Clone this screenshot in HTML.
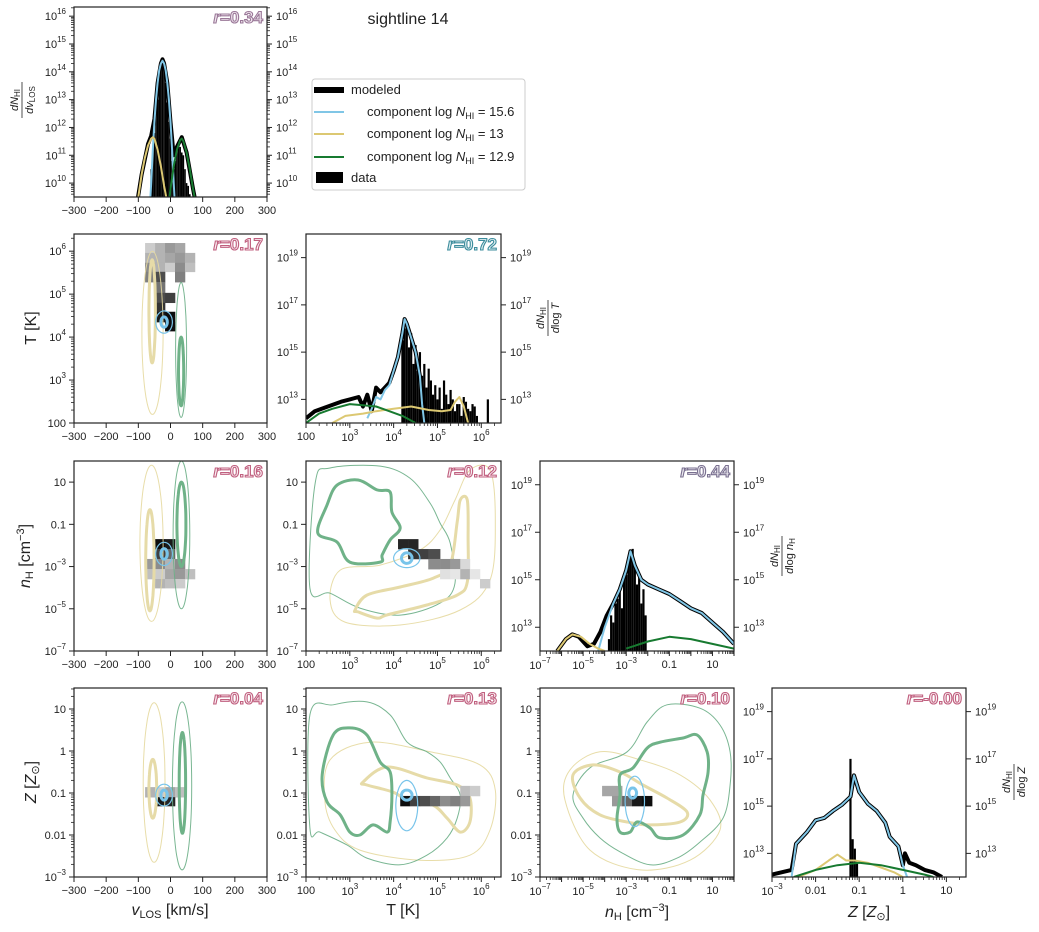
<!DOCTYPE html>
<html><head><meta charset="utf-8"><style>
html,body{margin:0;padding:0;background:#fff;}
svg{display:block;font-family:"Liberation Sans",sans-serif;}
</style></head><body>
<svg id="chart" width="1039" height="932" viewBox="0 0 1039 932"></svg>
<script>
// ---------- DATA ----------
const vBins=[-60,-55,-50,-45,-40,-35,-30,-25,-20,-15,-10,-5,0,5,10,15,20,25,30,35,40,45,50,55,60,65,70];
const vData=[10.5,11.2,11.8,12.5,13.0,13.8,14.1,14.3,14.3,13.6,12.9,12.2,11.6,10.8,10.5,10.8,11.2,11.4,11.3,11.1,11.0,10.5,10.0,9.9,9.6,9.5,9.4];
const vModX=[-105,-90,-70,-60,-50,-40,-30,-25,-20,-10,0,10,20,35,50,70,80];
const vModY=[9.2,10.3,11.4,11.7,12.3,13.6,14.3,14.45,14.3,13.6,12.2,11.0,11.3,11.65,11.1,9.8,9.2];
const vBlueX=[-65,-60,-55,-50,-45,-40,-35,-30,-25,-20,-15,-10,-5,0,5,10,15];
const vBlueY=[9.0,10.0,11.2,12.2,13.0,13.6,14.05,14.3,14.4,14.3,14.05,13.6,13.0,12.2,11.2,10.0,9.0];
const vYelX=[-105,-100,-90,-80,-70,-60,-55,-50,-40,-30,-20,-10];
const vYelY=[9.2,9.5,10.3,10.9,11.35,11.6,11.65,11.6,11.2,10.6,9.9,9.3];
const vGrnX=[-5,0,10,20,30,35,40,50,60,70,80];
const vGrnY=[9.3,9.8,10.6,11.2,11.55,11.6,11.5,11.1,10.5,9.8,9.2];
const tBins=[4.2,4.25,4.3,4.35,4.4,4.45,4.5,4.55,4.6,4.65,4.7,4.75,4.8,4.85,4.9,4.95,5.0,5.05,5.1,5.15,5.2,5.25,5.3,5.35,5.4,5.45,5.5,5.55,5.6,5.65,5.7,5.75,5.8,5.85,5.9,6.15];
const tData=[15.5,16.0,16.3,15.2,15.8,14.5,15.3,14.2,15.0,14.0,14.5,13.5,14.3,13.8,13.2,13.6,13.0,13.5,12.6,13.8,13.2,12.8,13.4,13.0,12.5,12.8,12.8,12.3,13.1,12.9,12.6,12.5,12.8,12.7,12.3,13.0];
const tModX=[2.0,2.2,2.5,2.8,3.0,3.2,3.3,3.4,3.5,3.6,3.7,3.8,3.9,4.0,4.1,4.2,4.25,4.3,4.4,4.5,4.6,4.7,4.75];
const tModY=[12.2,12.5,12.7,12.9,13.0,13.1,12.7,13.2,12.5,13.5,13.3,13.5,13.7,14.2,14.8,15.8,16.4,16.2,15.6,15.0,14.0,12.6,12.0];
const tBlueX=[3.4,3.5,3.6,3.7,3.8,3.9,4.0,4.1,4.2,4.25,4.3,4.4,4.5,4.6,4.65,4.7];
const tBlueY=[12.2,12.6,13.1,13.0,13.4,13.6,14.2,14.8,15.8,16.4,16.2,15.6,15.0,14.0,12.8,12.0];
const tYelX=[2.6,2.9,3.3,3.6,4.0,4.4,4.8,5.1,5.3,5.4,5.5,5.6,5.7];
const tYelY=[12.0,12.3,12.4,12.5,12.6,12.7,12.55,12.5,12.55,12.9,13.1,12.7,12.0];
const tGrnX=[2.0,2.3,2.6,3.0,3.3,3.6,3.9,4.2,4.5];
const tGrnY=[12.0,12.4,12.6,12.8,12.75,12.7,12.5,12.3,12.0];
const nBins=[-3.8,-3.7,-3.6,-3.5,-3.4,-3.3,-3.2,-3.1,-3.0,-2.9,-2.8,-2.7,-2.6,-2.5,-2.4,-2.3,-2.2,-2.1];
const nData=[12.5,13.5,13.2,14.0,14.2,14.5,13.8,15.0,15.2,15.8,16.0,16.3,15.5,14.8,15.2,14.0,14.6,13.5];
const nModX=[-6.2,-5.8,-5.5,-5.2,-4.8,-4.5,-4.2,-3.9,-3.6,-3.3,-3.0,-2.8,-2.6,-2.3,-2.0,-1.5,-1.0,-0.5,0.0,0.5,1.0,1.5,2.0];
const nModY=[12.0,12.5,12.7,12.6,12.2,12.3,12.8,13.5,14.0,14.6,15.4,16.2,15.6,15.0,14.8,14.6,14.4,14.1,13.8,13.6,13.2,12.8,12.3];
const nBlueX=[-4.3,-4.0,-3.6,-3.3,-3.0,-2.8,-2.6,-2.3,-2.0,-1.5,-1.0,-0.5,0.0,0.5,1.0,1.5,2.0];
const nBlueY=[12.0,13.0,14.0,14.6,15.4,16.2,15.6,15.0,14.8,14.6,14.4,14.1,13.8,13.6,13.2,12.8,12.3];
const nYelX=[-6.2,-5.8,-5.5,-5.1,-4.7,-4.3,-4.0];
const nYelY=[12.0,12.5,12.7,12.6,12.3,12.1,12.0];
const nGrnX=[-3.0,-2.0,-1.0,0.0,1.0,2.0];
const nGrnY=[12.1,12.4,12.6,12.5,12.3,12.1];
const zBins=[-1.2,-1.15,-1.1,-1.05];
const zData=[17.0,13.6,13.2,12.7];
const zModX=[-3.0,-2.55,-2.45,-2.2,-2.0,-1.8,-1.6,-1.4,-1.2,-1.12,-1.0,-0.8,-0.6,-0.4,-0.3,-0.1,0.0,0.05,0.15,0.3,0.5,0.7,0.9];
const zModY=[12.1,12.3,13.4,13.9,14.4,14.5,14.8,15.05,15.4,16.3,15.6,15.1,14.8,14.3,13.7,13.3,12.5,13.0,12.6,12.5,12.3,12.2,12.0];
const zBlueX=[-2.55,-2.45,-2.2,-2.0,-1.8,-1.6,-1.4,-1.2,-1.12,-1.0,-0.8,-0.6,-0.4,-0.3,-0.1,0.0,0.1];
const zBlueY=[12.0,13.4,13.9,14.4,14.5,14.8,15.05,15.4,16.3,15.6,15.1,14.8,14.3,13.7,13.3,12.5,12.0];
const zYelX=[-2.4,-2.0,-1.7,-1.5,-1.3,-1.1,-0.8,-0.5,-0.2,0.0];
const zYelY=[12.0,12.3,12.7,12.95,12.7,12.7,12.6,12.4,12.2,12.0];
const zGrnX=[-2.5,-2.0,-1.5,-1.0,-0.5,0.0,0.5,0.7];
const zGrnY=[12.0,12.3,12.5,12.6,12.5,12.3,12.1,12.0];
const vEdges=[-79,-48,-17,14,45,76];
const tEdgesVT=[6.19,5.96,5.73,5.52,5.28,5.03,4.8,4.59,4.35,4.14];
const cellsVT=[[0,0,0.2],[1,0,0.3],[2,0,0.4],[3,0,0.35],[0,1,0.3],[1,1,0.3],[2,1,0.35],[3,1,0.4],[4,1,0.3],[0,2,0.45],[1,2,0.3],[2,2,0.2],[3,2,0.45],[4,2,0.25],[0,3,0.5],[1,3,0.7],[3,3,0.5],[1,4,0.55],[1,5,0.7],[2,5,0.75],[1,6,0.8],[1,7,0.9],[2,7,0.95],[2,8,0.95]];
const nEdgesVN=[-1.7,-2.17,-2.64,-3.12,-3.59,-4.02];
const cellsVN=[[1,0,0.95],[2,0,0.9],[1,1,0.75],[2,1,0.6],[0,2,0.4],[1,2,0.45],[2,2,0.3],[3,2,0.45],[0,3,0.25],[1,3,0.2],[2,3,0.35],[3,3,0.4],[4,3,0.25],[1,4,0.3],[2,4,0.25],[3,4,0.2]];
const zEdgesVZ=[-0.86,-1.1,-1.31];
const cellsVZ=[[0,0,0.3],[1,0,0.2],[2,0,0.35],[3,0,0.25],[1,1,0.9],[2,1,0.85]];
const tEdgesTN=[4.10,4.33,4.56,4.79,5.06,5.29,5.52,5.74,5.97,6.2];
const nEdgesTN=[-1.70,-2.17,-2.64,-3.12,-3.59,-4.02];
const cellsTN=[[0,0,0.85],[1,0,0.85],[1,1,0.8],[2,1,0.75],[3,1,0.7],[3,2,0.45],[4,2,0.45],[5,2,0.4],[6,2,0.15],[4,3,0.12],[5,3,0.1],[6,3,0.3],[7,3,0.1],[8,4,0.2]];
const tEdgesTZ=[4.15,4.37,4.6,4.83,5.06,5.29,5.52,5.74,5.97];
const zEdgesTZ=[-0.83,-1.07,-1.31];
const cellsTZ=[[6,0,0.25],[7,0,0.2],[8,0,0.25],[0,1,0.95],[1,1,0.75],[2,1,0.7],[3,1,0.6],[4,1,0.45],[5,1,0.5],[6,1,0.4]];
const nEdgesNZ=[-4.12,-3.66,-3.19,-2.73,-2.27,-1.8];
const zEdgesNZ=[-0.83,-1.07,-1.31];
const cellsNZ=[[0,0,0.35],[1,0,0.35],[1,1,0.4],[2,1,0.6],[3,1,0.9],[4,1,0.95]];
const cTNgreenThick=[[2.27,-1.41],[2.48,-0.09],[2.71,0.86],[3.19,1.10],[3.62,0.63],[3.92,0.53],[3.96,-0.42],[4.15,-1.18],[3.92,-1.74],[3.74,-2.45],[3.69,-2.79],[3.00,-2.79],[2.71,-1.84]];
const cTNyelThick=[[3.12,-5.06],[3.39,-4.35],[4.15,-3.97],[4.90,-3.55],[5.29,-2.93],[5.45,-0.89],[5.52,0.15],[5.68,0.15],[5.70,-1.65],[5.68,-3.73],[5.45,-4.35],[4.76,-4.82],[3.85,-5.29],[3.62,-5.44],[3.19,-5.15]];
const cTNgreenThin=[[2.21,0.96],[2.55,1.67],[3.69,1.76],[4.37,1.19],[4.83,0.01],[5.06,-0.94],[5.29,-1.89],[5.40,-3.79],[5.06,-4.73],[4.15,-5.30],[3.23,-4.97],[2.55,-4.26],[2.09,-4.02]];
const cTNyelThin=[[2.78,-3.17],[2.55,-4.59],[2.89,-5.63],[4.15,-5.77],[5.52,-5.06],[6.20,-3.64],[6.32,-0.80],[6.20,1.57],[5.74,1.57],[5.40,0.15],[5.06,-1.27],[4.60,-2.22],[3.69,-2.93]];
const cTZgreenThick=[[2.37,-0.57],[2.62,0.38],[3.00,0.55],[3.39,0.38],[3.69,-0.26],[3.92,-0.50],[3.96,-1.05],[3.92,-1.69],[3.85,-1.93],[3.53,-1.76],[3.23,-2.0],[3.00,-1.93],[2.78,-1.52],[2.48,-1.21]];
const cTZyelThick=[[3.30,-0.74],[3.85,-0.38],[4.76,-0.64],[5.45,-0.81],[5.74,-1.12],[5.74,-1.69],[5.52,-1.93],[5.22,-1.60],[4.90,-1.29],[4.37,-1.21],[3.99,-0.98],[3.39,-0.81]];
const cTZgreenThin=[[2.09,0.86],[2.62,1.10],[3.39,1.17],[3.92,0.86],[4.31,0.21],[4.76,-0.02],[5.06,-0.26],[5.29,-0.64],[5.52,-1.05],[5.45,-1.60],[5.22,-2.07],[4.76,-2.48],[4.15,-2.71],[3.39,-2.55],[2.94,-2.24],[2.32,-1.93],[2.09,-1.83]];
const cTZyelThin=[[2.55,-0.21],[3.46,0.21],[4.83,-0.02],[5.97,-0.33],[6.32,-0.93],[6.20,-1.88],[5.74,-2.48],[4.60,-2.60],[3.23,-2.36],[2.66,-1.88],[2.43,-1.17]];
const cNZgreenThick=[[-3.29,-0.57],[-2.68,-0.40],[-2.03,0.07],[-1.43,0.21],[-0.36,0.31],[0.29,0.38],[0.75,-0.02],[0.80,-0.50],[0.56,-1.05],[0.42,-1.52],[-0.36,-2.0],[-1.43,-2.07],[-1.90,-1.83],[-2.50,-1.69],[-2.82,-1.93],[-3.29,-1.93],[-3.43,-1.60],[-3.29,-1.05]];
const cNZyelThick=[[-5.47,-0.57],[-4.54,-0.33],[-3.29,-0.50],[-2.22,-0.81],[-1.11,-1.12],[-0.18,-1.45],[-0.50,-1.69],[-1.90,-1.76],[-2.96,-1.69],[-4.22,-1.52],[-5.14,-1.12]];
const cNZgreenThin=[[-5.47,-1.05],[-4.68,-0.40],[-2.96,-0.02],[-2.03,0.69],[-1.11,1.10],[0.42,1.02],[1.35,0.62],[1.82,-0.02],[1.82,-0.81],[1.49,-1.60],[0.42,-2.17],[-0.64,-2.55],[-1.90,-2.71],[-3.29,-2.40],[-4.22,-2.07],[-5.0,-1.60]];
const cNZyelThin=[[-5.84,-1.17],[-5.61,-0.45],[-4.22,-0.02],[-2.36,-0.21],[-0.50,-0.57],[0.89,-1.17],[1.35,-1.88],[-0.04,-2.60],[-2.36,-2.83],[-4.68,-2.36]];
const eVT=[[-56,4.1,33,1.9,'yt'],[-57,4.6,10,1.2,'yk'],[33,3.7,17,1.57,'gt'],[33,3.2,8,0.8,'gk'],[-20,4.35,10,0.12,'bk'],[-20,4.35,26,0.26,'bt']];
const eVN=[[-59,-1.9,36,3.7,'yt'],[-64,-2.7,13,2.4,'yk'],[34,-1.5,26,3.5,'gt'],[34,-1.0,14,2.0,'gk'],[-20,-2.4,10,0.25,'bk'],[-20,-2.4,26,0.55,'bt']];
const eVZ=[[-51,-0.75,34,1.9,'yt'],[-55,-0.9,12,0.7,'yk'],[36,-0.83,30,2.0,'gt'],[37,-0.76,10,1.2,'gk'],[-20,-1.05,10,0.12,'bk'],[-20,-1.05,26,0.26,'bt']];
const eTN=[[4.3,-2.6,0.12,0.25,'bk'],[4.3,-2.6,0.3,0.45,'bt']];
const eTZ=[[4.3,-1.05,0.12,0.12,'bk'],[4.3,-1.3,0.25,0.6,'bt']];
const eNZ=[[-2.7,-1.0,0.18,0.12,'bk'],[-2.6,-1.2,0.45,0.6,'bt']];
const vTicks=[-300,-200,-100,0,100,200,300];
const vTickLabels=['\u2212300','\u2212200','\u2212100','0','100','200','300'];
const tTicks=[2,3,4,5,6];
const nTicks=[-7,-5,-3,-1,1];
const zTicks=[-3,-2,-1,0,1];
const histTicksV=[10,11,12,13,14,15,16];
const histTicksO=[13,15,17,19];
const rValues=['0.34','0.17','0.72','0.16','0.12','0.44','0.04','0.13','0.10','-0.00'];

// ---------- RENDER ----------
const NS='http://www.w3.org/2000/svg';
const svg=document.getElementById('chart');
function el(tag,attrs,parent){const e=document.createElementNS(NS,tag);for(const k in attrs)e.setAttribute(k,attrs[k]);(parent||svg).appendChild(e);return e;}
let clipN=0;
function mk(x0,y0,x1,y1,xmin,xmax,ymin,ymax,name){
  const p={x0,y0,x1,y1,sx:v=>x0+(v-xmin)/(xmax-xmin)*(x1-x0),sy:v=>y1-(v-ymin)/(ymax-ymin)*(y1-y0),xmin,xmax,ymin,ymax};
  const id='c'+(clipN++);
  const cp=el('clipPath',{id});el('rect',{x:x0,y:y0,width:x1-x0,height:y1-y0},cp);
  p.g=el('g',{'clip-path':'url(#'+id+')'});
  
  
  p.name=name;
  return p;
}
function frame(p){
  const r=el('rect',{x:p.x0,y:p.y0,width:p.x1-p.x0,height:p.y1-p.y0,fill:'none',stroke:'#222','stroke-width':1.2});
  
  
}
function txt(x,y,s,size,anchor,parent){const t=el('text',{x,y,'font-size':size,'text-anchor':anchor||'middle',fill:'#222'},parent);t.textContent=s;return t;}
function powLabel(x,y,exp,anchor,name){
  const t=el('text',{x,y,'font-size':11,'text-anchor':anchor,fill:'#222'});
  
  
  const a=el('tspan',{},t);a.textContent='10';
  const b=el('tspan',{dy:-6,'font-size':8},t);b.textContent=String(exp).replace('-','\u2212');
  return t;
}
function logLabel(e){
  if(e===-1)return '0.1'; if(e===0)return '1'; if(e===1)return '10'; if(e===-2)return '0.01'; if(e===2)return '100'; return null;
}
function xAxisLog(p,ticks,style,minor){
  ticks.forEach(e=>{const x=p.sx(e);el('line',{x1:x,y1:p.y1,x2:x,y2:p.y1+5,stroke:'#222'});
    const lab=style==='T'?(e===2?'100':null):logLabel(e);
    if(lab){const t=txt(x,p.y1+17,lab,11);}
    else powLabel(x,p.y1+18,e,'middle','x-tick-label');});
  if(minor){for(let d=Math.floor(p.xmin);d<p.xmax;d++)for(let k=2;k<10;k++){const v=d+Math.log10(k);if(v>p.xmin&&v<p.xmax){const x=p.sx(v);el('line',{x1:x,y1:p.y1,x2:x,y2:p.y1+3,stroke:'#222','stroke-width':0.8});}}
    for(let d=Math.ceil(p.xmin);d<=p.xmax;d++){if(ticks.indexOf(d)<0){const x=p.sx(d);el('line',{x1:x,y1:p.y1,x2:x,y2:p.y1+5,stroke:'#222'});}}}
}
function yAxisLog(p,ticks,style,minor,side){
  const X=side==='r'?p.x1:p.x0, dir=side==='r'?1:-1;
  ticks.forEach(e=>{const y=p.sy(e);el('line',{x1:X,y1:y,x2:X+dir*5,y2:y,stroke:'#222'});
    const lab=style==='T'?(e===2?'100':null):(style==='H'?null:logLabel(e));
    if(lab){const t=txt(X+dir*8,y+4,lab,11,side==='r'?'start':'end');}
    else powLabel(X+dir*(side==='r'?9:8),y+4,e,side==='r'?'start':'end','y-tick-label');});
  if(minor){for(let d=Math.floor(p.ymin);d<p.ymax;d++)for(let k=2;k<10;k++){const v=d+Math.log10(k);if(v>p.ymin&&v<p.ymax){const y=p.sy(v);el('line',{x1:X,y1:y,x2:X+dir*3,y2:y,stroke:'#222','stroke-width':0.8});}}
    for(let d=Math.ceil(p.ymin);d<=p.ymax;d++){if(ticks.indexOf(d)<0){const y=p.sy(d);el('line',{x1:X,y1:y,x2:X+dir*5,y2:y,stroke:'#222'});}}}
}
function xAxisV(p){vTicks.forEach((v,i)=>{const x=p.sx(v);el('line',{x1:x,y1:p.y1,x2:x,y2:p.y1+5,stroke:'#222'});const t=txt(x,p.y1+17,vTickLabels[i],11);});}
function line(p,xs,ys,color,w,name){
  const d=xs.map((x,i)=>(i?'L':'M')+p.sx(x).toFixed(1)+','+p.sy(ys[i]).toFixed(1)).join('');
  const e=el('path',{d,fill:'none',stroke:color,'stroke-width':w,'stroke-linejoin':'round'},p.g);
  
  
}
function bars(p,bins,vals,w){
  bins.forEach((b,i)=>{const x0=p.sx(b-w/2),x1=p.sx(b+w/2),y=p.sy(vals[i]);
    const r=el('rect',{x:x0,y,width:Math.max(x1-x0,1.2),height:p.y1-y,fill:'#000'},p.g);
    
    });
}
function hist(p,bins,vals,w,m,b,yl,g){
  bars(p,bins,vals,w);
  line(p,m[0],m[1],'#000',4,'modeled-line');
  line(p,b[0],b[1],'#80c6e6',2,'component-1-line');
  line(p,yl[0],yl[1],'#dcc872',2,'component-2-line');
  line(p,g[0],g[1],'#177a30',2,'component-3-line');
}
function heat(p,xe,ye,cells){
  cells.forEach(c=>{const xa=p.sx(xe[c[0]]),xb=p.sx(xe[c[0]+1]),ya=p.sy(ye[c[1]]),yb=p.sy(ye[c[1]+1]);
    const g=Math.round(255*(1-c[2]));
    const r=el('rect',{x:Math.min(xa,xb),y:Math.min(ya,yb),width:Math.abs(xb-xa)+0.3,height:Math.abs(yb-ya)+0.3,fill:'rgb('+g+','+g+','+g+')'},p.g);
    
    });
}
const cStyle={yt:['#e6d9a0',1,0.9],yk:['#e6dba8',3,1],gt:['#6aae86',1,0.9],gk:['#6fb288',3,1],bk:['#78c4ea',3,1],bt:['#78c4ea',1.2,1]};
function smooth(pts){
  const n=pts.length;let d='M'+pts[0][0].toFixed(1)+','+pts[0][1].toFixed(1);
  for(let i=0;i<n;i++){const p0=pts[(i-1+n)%n],p1=pts[i],p2=pts[(i+1)%n],p3=pts[(i+2)%n];
    d+='C'+(p1[0]+(p2[0]-p0[0])/6).toFixed(1)+','+(p1[1]+(p2[1]-p0[1])/6).toFixed(1)+' '+(p2[0]-(p3[0]-p1[0])/6).toFixed(1)+','+(p2[1]-(p3[1]-p1[1])/6).toFixed(1)+' '+p2[0].toFixed(1)+','+p2[1].toFixed(1);}
  return d+'Z';
}
function contour(p,pts,k){
  const s=cStyle[k];
  const e=el('path',{d:smooth(pts.map(q=>[p.sx(q[0]),p.sy(q[1])])),fill:'none',stroke:s[0],'stroke-width':s[1],opacity:s[2]},p.g);
  
  
}
function ellipses(p,list){
  list.forEach(e=>{const pts=[];for(let i=0;i<24;i++){const a=i/24*2*Math.PI;pts.push([e[0]+e[2]*Math.cos(a),e[1]+e[3]*Math.sin(a)]);}contour(p,pts,e[4]);});
}
function rlab(p,val,col,fill){
  const t=el('text',{x:p.x1-4,y:p.y0+16,'font-size':17,'font-weight':'bold','text-anchor':'end',fill,stroke:col,'stroke-width':1.1});
  
  
  const a=el('tspan',{'font-style':'italic'},t);a.textContent='r';
  const b=el('tspan',{},t);b.textContent='='+val;
}
const PINK='#c0607f',PINKF='#fbeef3';

const pv=mk(74,7,267,197,-300,300,9.5,16.33,'velocity-hist');
const pvT=mk(74,234,267,423,-300,300,2,6.4,'velocity-temperature');
const pT=mk(306,234,501,423,2,6.45,12,20,'temperature-hist');
const pvn=mk(74,461,267,651,-300,300,-7,2,'velocity-density');
const pTn=mk(306,461,501,651,2,6.45,-7,2,'temperature-density');
const pn=mk(540,461,734,651,-7,2,12,20,'density-hist');
const pvZ=mk(74,688,267,877,-300,300,-3,1.5,'velocity-metallicity');
const pTZ=mk(306,688,501,877,2,6.45,-3,1.5,'temperature-metallicity');
const pnZ=mk(540,688,734,877,-7,2,-3,1.5,'density-metallicity');
const pZ=mk(772,688,966,877,-3,1.45,12,20,'metallicity-hist');

hist(pv,vBins,vData,5,[vModX,vModY],[vBlueX,vBlueY],[vYelX,vYelY],[vGrnX,vGrnY]);
hist(pT,tBins,tData,0.05,[tModX,tModY],[tBlueX,tBlueY],[tYelX,tYelY],[tGrnX,tGrnY]);
hist(pn,nBins,nData,0.1,[nModX,nModY],[nBlueX,nBlueY],[nYelX,nYelY],[nGrnX,nGrnY]);
hist(pZ,zBins,zData,0.05,[zModX,zModY],[zBlueX,zBlueY],[zYelX,zYelY],[zGrnX,zGrnY]);

heat(pvT,vEdges,tEdgesVT,cellsVT);ellipses(pvT,eVT);
heat(pvn,vEdges,nEdgesVN,cellsVN);ellipses(pvn,eVN);
heat(pvZ,vEdges,zEdgesVZ,cellsVZ);ellipses(pvZ,eVZ);
contour(pTn,cTNyelThin,'yt');contour(pTn,cTNgreenThin,'gt');contour(pTn,cTNgreenThick,'gk');contour(pTn,cTNyelThick,'yk');heat(pTn,tEdgesTN,nEdgesTN,cellsTN);ellipses(pTn,eTN);
contour(pTZ,cTZyelThin,'yt');contour(pTZ,cTZgreenThin,'gt');contour(pTZ,cTZyelThick,'yk');contour(pTZ,cTZgreenThick,'gk');heat(pTZ,tEdgesTZ,zEdgesTZ,cellsTZ);ellipses(pTZ,eTZ);
contour(pnZ,cNZyelThin,'yt');contour(pnZ,cNZgreenThin,'gt');contour(pnZ,cNZyelThick,'yk');heat(pnZ,nEdgesNZ,zEdgesNZ,cellsNZ);contour(pnZ,cNZgreenThick,'gk');ellipses(pnZ,eNZ);

[pv,pvT,pT,pvn,pTn,pn,pvZ,pTZ,pnZ,pZ].forEach(frame);

[pv,pvT,pvn,pvZ].forEach(xAxisV);
[pT,pTn,pTZ].forEach(p=>xAxisLog(p,tTicks,'T',true));
[pn,pnZ].forEach(p=>xAxisLog(p,nTicks,'N',true));
xAxisLog(pZ,zTicks,'Z',true);
yAxisLog(pv,histTicksV,'P',true,'l');yAxisLog(pv,histTicksV,'P',true,'r');
yAxisLog(pvT,tTicks,'T',true,'l');
yAxisLog(pvn,nTicks,'N',false,'l');yAxisLog(pTn,nTicks,'N',false,'l');
yAxisLog(pvZ,zTicks,'Z',true,'l');yAxisLog(pTZ,zTicks,'Z',true,'l');yAxisLog(pnZ,zTicks,'Z',true,'l');
[pT,pn,pZ].forEach(p=>{yAxisLog(p,histTicksO,'P',false,'l');yAxisLog(p,histTicksO,'P',false,'r');});

rlab(pv,rValues[0],'#9a7898','#f2e8f0');
rlab(pvT,rValues[1],PINK,PINKF);
rlab(pT,rValues[2],'#3c8c9c','#e4f2f4');
rlab(pvn,rValues[3],PINK,PINKF);
rlab(pTn,rValues[4],PINK,PINKF);
rlab(pn,rValues[5],'#7a7090','#eeecf2');
rlab(pvZ,rValues[6],PINK,PINKF);
rlab(pTZ,rValues[7],PINK,PINKF);
rlab(pnZ,rValues[8],PINK,PINKF);
rlab(pZ,rValues[9],PINK,PINKF);
</script>
<svg width="1039" height="932" style="position:absolute;left:0;top:0">
 <g font-family="Liberation Sans, sans-serif" fill="#222">
  <text x="408" y="24" font-size="16" text-anchor="middle">sightline 14</text>
  <g>
   <rect x="312" y="79" width="213" height="111" rx="3" fill="#fff" stroke="#ccc"/>
   <rect x="314" y="87" width="30" height="6" fill="#000"/>
   <text x="351" y="94" font-size="13">modeled</text>
   <line x1="314" y1="112" x2="344" y2="112" stroke="#80c6e6" stroke-width="2"/>
   <text x="367" y="116" font-size="13">component log <tspan font-style="italic">N</tspan><tspan font-size="9" dy="3">HI</tspan><tspan dy="-3"> = 15.6</tspan></text>
   <line x1="314" y1="134" x2="344" y2="134" stroke="#dcc872" stroke-width="2"/>
   <text x="367" y="138" font-size="13">component log <tspan font-style="italic">N</tspan><tspan font-size="9" dy="3">HI</tspan><tspan dy="-3"> = 13</tspan></text>
   <line x1="314" y1="157" x2="344" y2="157" stroke="#177a30" stroke-width="2"/>
   <text x="367" y="161" font-size="13">component log <tspan font-style="italic">N</tspan><tspan font-size="9" dy="3">HI</tspan><tspan dy="-3"> = 12.9</tspan></text>
   <rect x="316" y="172" width="27" height="11" fill="#000"/>
   <text x="351" y="182" font-size="13">data</text>
  </g>
  <g transform="translate(22,100) rotate(-90)">
   <text x="0" y="-4" font-size="11" text-anchor="middle"><tspan font-style="italic">dN</tspan><tspan font-size="8" dy="2">HI</tspan></text>
   <line x1="-18" y1="0" x2="18" y2="0" stroke="#222" stroke-width="0.8"/>
   <text x="0" y="11" font-size="11" text-anchor="middle"><tspan font-style="italic">dv</tspan><tspan font-size="8" dy="2">LOS</tspan></text>
  </g>
  <text transform="translate(36,328) rotate(-90)" font-size="16" text-anchor="middle">T [K]</text>
  <text transform="translate(30,556) rotate(-90)" font-size="16" text-anchor="middle"><tspan font-style="italic">n</tspan><tspan font-size="11" dy="3">H</tspan><tspan dy="-3"> [cm</tspan><tspan font-size="11" dy="-6">−3</tspan><tspan dy="6">]</tspan></text>
  <text transform="translate(36,782) rotate(-90)" font-size="16" text-anchor="middle"><tspan font-style="italic">Z</tspan> [<tspan font-style="italic">Z</tspan><tspan font-size="11" dy="3">⊙</tspan><tspan dy="-3">]</tspan></text>
  <g transform="translate(548,318) rotate(-90)">
   <text x="0" y="-4" font-size="11" text-anchor="middle"><tspan font-style="italic">dN</tspan><tspan font-size="8" dy="2">HI</tspan></text>
   <line x1="-18" y1="0" x2="18" y2="0" stroke="#222" stroke-width="0.8"/>
   <text x="0" y="11" font-size="11" text-anchor="middle"><tspan font-style="italic">d</tspan>log <tspan font-style="italic">T</tspan></text>
  </g>
  <g transform="translate(782,556) rotate(-90)">
   <text x="0" y="-4" font-size="11" text-anchor="middle"><tspan font-style="italic">dN</tspan><tspan font-size="8" dy="2">HI</tspan></text>
   <line x1="-20" y1="0" x2="20" y2="0" stroke="#222" stroke-width="0.8"/>
   <text x="0" y="11" font-size="11" text-anchor="middle"><tspan font-style="italic">d</tspan>log <tspan font-style="italic">n</tspan><tspan font-size="8" dy="2">H</tspan></text>
  </g>
  <g transform="translate(1014,782) rotate(-90)">
   <text x="0" y="-4" font-size="11" text-anchor="middle"><tspan font-style="italic">dN</tspan><tspan font-size="8" dy="2">HI</tspan></text>
   <line x1="-18" y1="0" x2="18" y2="0" stroke="#222" stroke-width="0.8"/>
   <text x="0" y="11" font-size="11" text-anchor="middle"><tspan font-style="italic">d</tspan>log <tspan font-style="italic">Z</tspan></text>
  </g>
  <text x="170" y="915" font-size="16" text-anchor="middle"><tspan font-style="italic">v</tspan><tspan font-size="11" dy="3">LOS</tspan><tspan dy="-3"> [km/s]</tspan></text>
  <text x="403" y="915" font-size="16" text-anchor="middle">T [K]</text>
  <text x="637" y="917" font-size="16" text-anchor="middle"><tspan font-style="italic">n</tspan><tspan font-size="11" dy="3">H</tspan><tspan dy="-3"> [cm</tspan><tspan font-size="11" dy="-6">−3</tspan><tspan dy="6">]</tspan></text>
  <text x="869" y="917" font-size="16" text-anchor="middle"><tspan font-style="italic">Z</tspan> [<tspan font-style="italic">Z</tspan><tspan font-size="11" dy="3">⊙</tspan><tspan dy="-3">]</tspan></text>
 </g>
</svg>
</body></html>
